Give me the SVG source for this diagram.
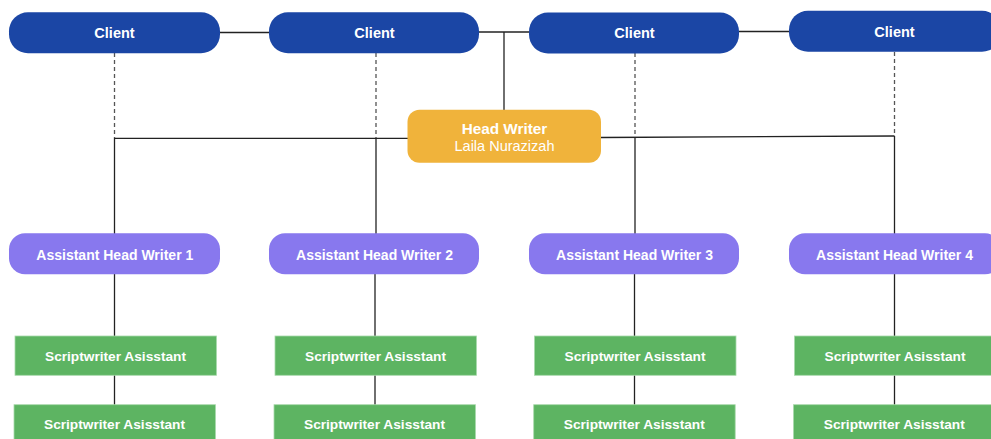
<svg xmlns="http://www.w3.org/2000/svg" width="991" height="439" viewBox="0 0 991 439">
<style>
.client{fill:#1B46A5}
.ahw{fill:#8878EE}
.sw{fill:#5DB462;stroke:#A9D9AC;stroke-width:0.8}
.hw{fill:#F0B33B}
.t{font-family:"Liberation Sans",Arial,sans-serif;fill:#fff;text-anchor:middle;font-weight:bold}
.ln{stroke:#222;stroke-width:1.3;fill:none}
.dash{stroke:#555;stroke-width:1.3;fill:none;stroke-dasharray:4 3}
</style>
<rect width="991" height="439" fill="#fff"/>
<g id="connectors">
<line class="ln" x1="220" y1="32.5" x2="269" y2="32.5"/>
<line class="ln" x1="479" y1="32" x2="529" y2="32"/>
<line class="ln" x1="504" y1="32" x2="504" y2="110"/>
<line class="ln" x1="739" y1="31.5" x2="789" y2="31.5"/>
<line class="dash" x1="114.5" y1="53" x2="114.5" y2="138"/>
<line class="dash" x1="376" y1="53" x2="376" y2="138"/>
<line class="dash" x1="635" y1="53" x2="635" y2="137"/>
<line class="dash" x1="894.5" y1="52" x2="894.5" y2="136"/>
<line class="ln" x1="114.5" y1="138.3" x2="408" y2="138.3"/>
<line class="ln" x1="601" y1="137.5" x2="894.5" y2="136"/>
<line class="ln" x1="114.5" y1="138" x2="114.5" y2="234"/>
<line class="ln" x1="376" y1="138" x2="376" y2="234"/>
<line class="ln" x1="635" y1="137" x2="635" y2="234"/>
<line class="ln" x1="894.5" y1="136" x2="894.5" y2="234"/>
<line class="ln" x1="114.5" y1="274" x2="114.5" y2="405"/>
<line class="ln" x1="375" y1="274" x2="375" y2="405"/>
<line class="ln" x1="634.5" y1="274" x2="634.5" y2="405"/>
<line class="ln" x1="894.5" y1="274" x2="894.5" y2="405"/>
</g>
<g id="client1"><rect class="client" x="9" y="12.3" width="211" height="41" rx="19"/><text class="t" x="114.5" y="38.2" font-size="14.5">Client</text></g>
<g id="client2"><rect class="client" x="269" y="12.3" width="210" height="41" rx="19"/><text class="t" x="374.5" y="38.2" font-size="14.5">Client</text></g>
<g id="client3"><rect class="client" x="529" y="12.5" width="210" height="41" rx="19"/><text class="t" x="634.5" y="38.4" font-size="14.5">Client</text></g>
<g id="client4"><rect class="client" x="789" y="10.7" width="212" height="41" rx="19"/><text class="t" x="894.5" y="37.3" font-size="14.5">Client</text></g>
<g id="headwriter"><rect class="hw" x="407.5" y="109.7" width="193.5" height="53" rx="12"/><text class="t" x="504.5" y="133.5" font-size="15.3">Head Writer</text><text class="t" x="504.5" y="151" font-size="14.5" font-weight="normal" style="font-weight:normal">Laila Nurazizah</text></g>
<g id="ahw1"><rect class="ahw" x="9" y="233.3" width="211" height="41" rx="16"/><text class="t" x="114.8" y="259.7" font-size="14">Assistant Head Writer 1</text></g>
<g id="ahw2"><rect class="ahw" x="269" y="233.3" width="210" height="41" rx="16"/><text class="t" x="374.5" y="259.7" font-size="14">Assistant Head Writer 2</text></g>
<g id="ahw3"><rect class="ahw" x="529" y="233.3" width="210" height="41" rx="16"/><text class="t" x="634.5" y="259.7" font-size="14">Assistant Head Writer 3</text></g>
<g id="ahw4"><rect class="ahw" x="789" y="233.3" width="212" height="41" rx="16"/><text class="t" x="894.5" y="259.7" font-size="14">Assistant Head Writer 4</text></g>
<g id="sw1a"><rect class="sw" x="15" y="336" width="201.5" height="39.3"/><text class="t" x="115.5" y="361" font-size="13.7">Scriptwriter Asisstant</text></g>
<g id="sw2a"><rect class="sw" x="275" y="336" width="201.5" height="39.3"/><text class="t" x="375.5" y="361" font-size="13.7">Scriptwriter Asisstant</text></g>
<g id="sw3a"><rect class="sw" x="534.5" y="336" width="201.5" height="39.3"/><text class="t" x="635" y="361" font-size="13.7">Scriptwriter Asisstant</text></g>
<g id="sw4a"><rect class="sw" x="794.5" y="336" width="201.5" height="39.3"/><text class="t" x="895" y="361" font-size="13.7">Scriptwriter Asisstant</text></g>
<g id="sw1b"><rect class="sw" x="14" y="404.7" width="201.5" height="40"/><text class="t" x="114.5" y="429.3" font-size="13.7">Scriptwriter Asisstant</text></g>
<g id="sw2b"><rect class="sw" x="274" y="404.7" width="201.5" height="40"/><text class="t" x="374.5" y="429.3" font-size="13.7">Scriptwriter Asisstant</text></g>
<g id="sw3b"><rect class="sw" x="533.7" y="404.7" width="201.5" height="40"/><text class="t" x="634.3" y="429.3" font-size="13.7">Scriptwriter Asisstant</text></g>
<g id="sw4b"><rect class="sw" x="793.5" y="404.7" width="201.5" height="40"/><text class="t" x="894.3" y="429.3" font-size="13.7">Scriptwriter Asisstant</text></g>
</svg>
